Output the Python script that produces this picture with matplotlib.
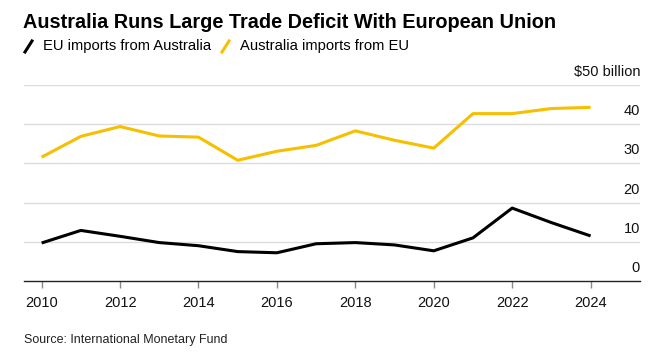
import matplotlib.pyplot as plt
from matplotlib.lines import Line2D

years = list(range(2010, 2025))
eu_from_aus = [9.7, 12.9, 11.4, 9.8, 9.0, 7.5, 7.2, 9.5, 9.8, 9.2, 7.7, 11.0, 18.6, 14.9, 11.5]
aus_from_eu = [31.6, 36.9, 39.4, 37.0, 36.7, 30.8, 33.1, 34.6, 38.3, 35.9, 33.9, 42.7, 42.7, 44.0, 44.3]
yticks = [0, 10, 20, 30, 40, 50]
xticks = list(range(2010, 2025, 2))

black = '#000000'
yellow = '#f6bf00'

plt.rcParams['font.family'] = ['Liberation Sans', 'DejaVu Sans']

fig = plt.figure(figsize=(6.68, 3.58), dpi=100)
ax = fig.add_axes([24 / 668, 1 - 281 / 358, (640 - 24) / 668, (281 - 85) / 358])

ax.plot(years, eu_from_aus, color=black, lw=2.2, solid_capstyle='butt', zorder=3)
ax.plot(years, aus_from_eu, color=yellow, lw=2.2, solid_capstyle='butt', zorder=3)

ax.set_xlim(2009.55, 2025.26)
ax.set_ylim(0, 50)

# gridlines + labels sitting above them on the right
for v in yticks:
    if v > 0:
        ax.axhline(v, color='#dcdcdc', lw=1, zorder=1)
    lab = '$50 billion' if v == 50 else str(v)
    ax.annotate(lab, xy=(1, v), xycoords=('axes fraction', 'data'),
                xytext=(0, 13), textcoords='offset pixels',
                ha='right', va='center', fontsize=10.5, color='#111111')

for s in ['top', 'right', 'left']:
    ax.spines[s].set_visible(False)
ax.spines['bottom'].set_color('#222222')
ax.spines['bottom'].set_linewidth(1)
ax.set_yticks([])
ax.set_xticks(xticks)
ax.set_xticklabels([str(x) for x in xticks], fontsize=10.5, color='#111111')
ax.tick_params(axis='x', length=5, width=1, color='#888888', pad=6)

fig.text(23 / 668, 1 - 22 / 358, 'Australia Runs Large Trade Deficit With European Union',
         fontsize=14.3, fontweight='bold', va='center', ha='left')

# legend
fig.add_artist(Line2D([25 / 668, 32 / 668], [1 - 52 / 358, 1 - 41 / 358], color=black, lw=2.2))
fig.text(43 / 668, 1 - 46 / 358, 'EU imports from Australia', fontsize=10.6, va='center')
fig.add_artist(Line2D([222 / 668, 229 / 668], [1 - 52 / 358, 1 - 41 / 358], color=yellow, lw=2.2))
fig.text(240 / 668, 1 - 46 / 358, 'Australia imports from EU', fontsize=10.6, va='center')

fig.text(24 / 668, 1 - 340 / 358, 'Source: International Monetary Fund', fontsize=9, va='center',
         color='#222222')

fig.savefig('out.png', dpi=100)
